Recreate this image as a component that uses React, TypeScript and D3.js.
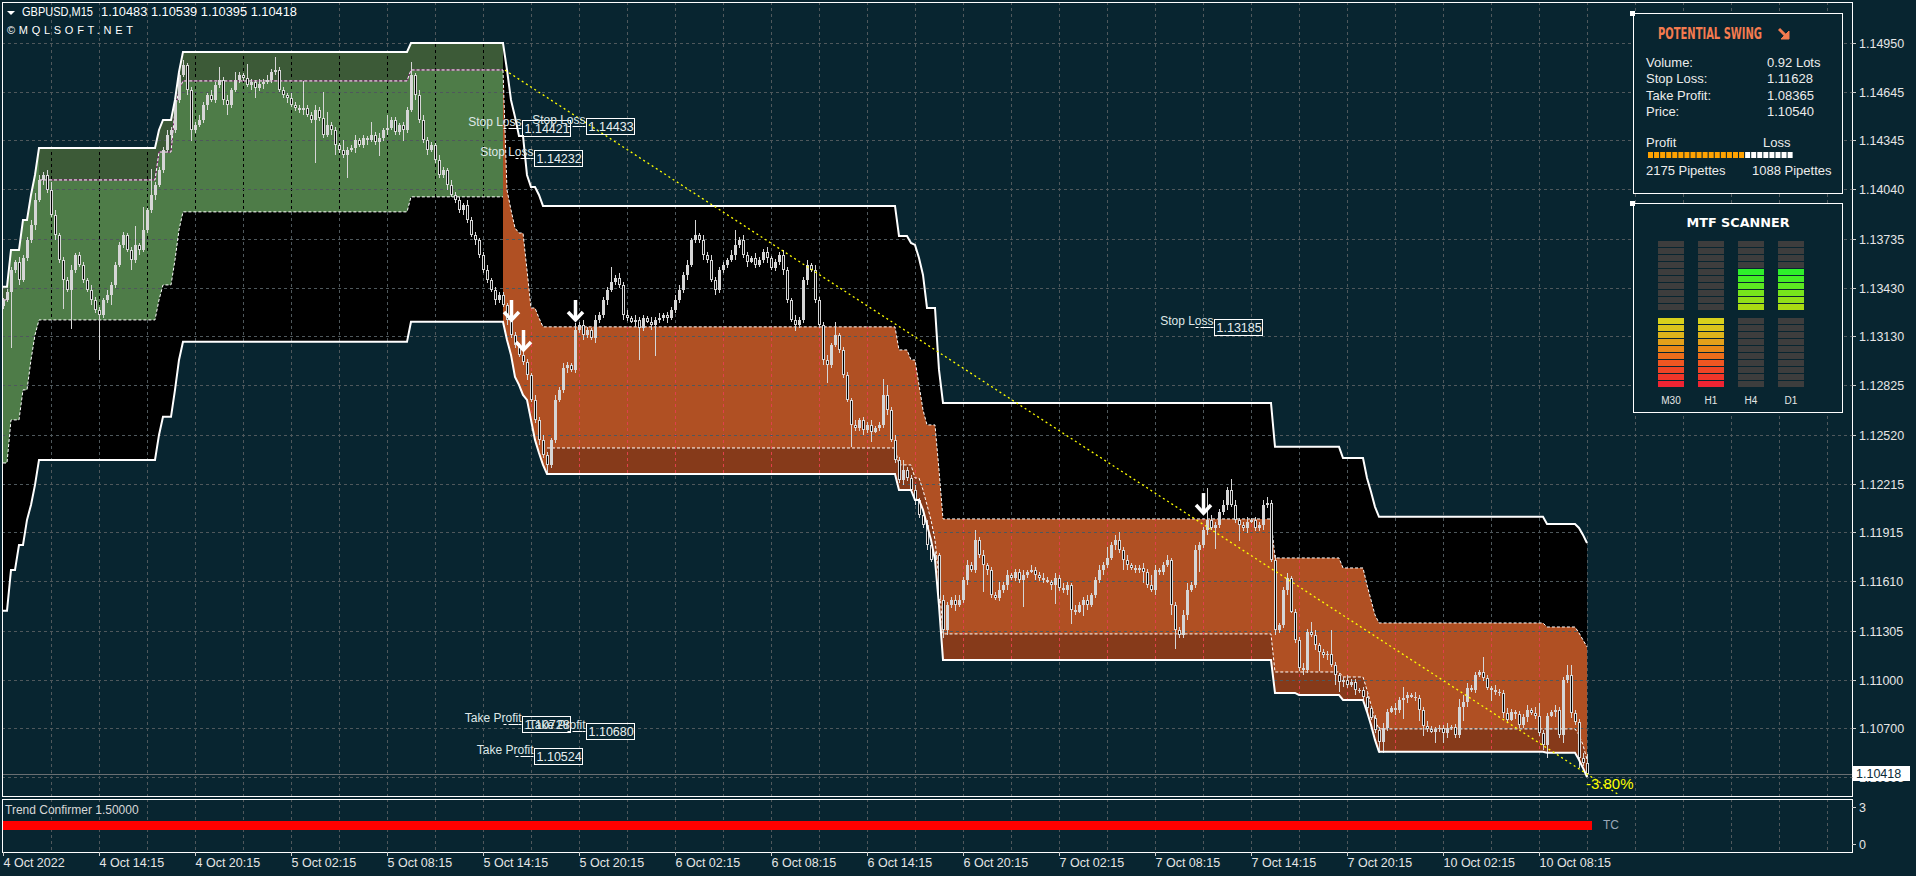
import React, { useEffect } from 'react';
import * as d3 from 'd3';

// ---------------- DATA ----------------
const symbolTitle = 'GBPUSD,M15';
const lastBarOHLC = [1.10483, 1.10539, 1.10395, 1.10418];
const watermark = '©MQLSOFT.NET';

const priceTicks = ['1.14950', '1.14645', '1.14345', '1.14040', '1.13735', '1.13430', '1.13130', '1.12825', '1.12520', '1.12215', '1.11915', '1.11610', '1.11305', '1.11000', '1.10700', '1.10395'];
const timeLabels = ['4 Oct 2022', '4 Oct 14:15', '4 Oct 20:15', '5 Oct 02:15', '5 Oct 08:15', '5 Oct 14:15', '5 Oct 20:15', '6 Oct 02:15', '6 Oct 08:15', '6 Oct 14:15', '6 Oct 20:15', '7 Oct 02:15', '7 Oct 08:15', '7 Oct 14:15', '7 Oct 20:15', '10 Oct 02:15', '10 Oct 08:15'];
const barsPerLabel = 24;
const barsPerGrid = 12;

// closes in points above 1.10000 (one per M15 bar)
const closes = [
  3355, 3405, 3541, 3591, 3479, 3615, 3727, 3820, 3975, 4099,
  4130, 4037, 3882, 3758, 3603, 3479, 3417, 3541, 3634, 3572,
  3479, 3417, 3355, 3293, 3262, 3355, 3386, 3448, 3572, 3696,
  3758, 3665, 3603, 3696, 3665, 3789, 3913, 4006, 4068, 4161,
  4285, 4378, 4409, 4595, 4750, 4812, 4657, 4409, 4440, 4471,
  4564, 4626, 4595, 4688, 4719, 4595, 4564, 4657, 4719, 4750,
  4731, 4688, 4707, 4669, 4694, 4707, 4719, 4769, 4781, 4657,
  4626, 4607, 4564, 4545, 4533, 4545, 4502, 4471, 4533, 4483,
  4378, 4440, 4409, 4316, 4285, 4254, 4285, 4297, 4347, 4316,
  4359, 4347, 4378, 4335, 4359, 4409, 4421, 4471, 4397, 4440,
  4409, 4533, 4750, 4626, 4471, 4347, 4285, 4316, 4223, 4130,
  4161, 4068, 4006, 3975, 3913, 3944, 3851, 3758, 3727, 3634,
  3541, 3479, 3417, 3355, 3386, 3324, 3231, 3138, 3076, 3014,
  2971, 2890, 2735, 2611, 2487, 2394, 2332, 2487, 2735, 2797,
  2933, 2952, 2921, 3169, 3200, 3138, 3169, 3119, 3231, 3262,
  3355, 3417, 3467, 3491, 3448, 3262, 3243, 3219, 3231, 3181,
  3243, 3219, 3200, 3231, 3243, 3262, 3243, 3293, 3355, 3417,
  3510, 3572, 3727, 3758, 3727, 3634, 3603, 3479, 3417, 3541,
  3572, 3603, 3634, 3696, 3727, 3634, 3591, 3615, 3572, 3603,
  3653, 3615, 3553, 3591, 3634, 3541, 3355, 3231, 3200, 3231,
  3479, 3572, 3541, 3355, 3200, 2983, 2952, 3076, 3138, 3045,
  2890, 2735, 2580, 2561, 2611, 2549, 2580, 2537, 2561, 2580,
  2766, 2673, 2487, 2363, 2239, 2301, 2251, 2177, 2115, 2022,
  1960, 1836, 1743, 1774, 1495, 1309, 1464, 1495, 1464, 1495,
  1619, 1712, 1681, 1867, 1774, 1712, 1681, 1526, 1507, 1557,
  1588, 1650, 1631, 1669, 1619, 1650, 1669, 1681, 1650, 1631,
  1619, 1607, 1588, 1631, 1569, 1557, 1588, 1433, 1421, 1464,
  1495, 1464, 1526, 1619, 1681, 1712, 1755, 1836, 1867, 1805,
  1743, 1712, 1693, 1681, 1693, 1669, 1588, 1557, 1681, 1669,
  1712, 1743, 1464, 1309, 1278, 1402, 1557, 1588, 1805, 1836,
  1929, 1991, 1941, 1960, 2041, 2084, 2177, 2084, 1991, 1960,
  1941, 1979, 1991, 1941, 1960, 2084, 2096, 1743, 1309, 1340,
  1557, 1631, 1421, 1247, 1073, 1061, 1297, 1278, 1216, 1173,
  1154, 1160, 1092, 1030, 987, 999, 968, 987, 937, 937,
  894, 825, 763, 689, 615, 702, 801, 825, 813, 875,
  887, 906, 894, 887, 813, 714, 695, 677, 695, 701,
  670, 701, 707, 658, 832, 863, 949, 937, 1030, 1049,
  1011, 949, 937, 925, 918, 795, 751, 801, 788, 720,
  770, 813, 794, 776, 670, 596, 776, 801, 813, 658,
  999, 1030, 795, 739, 515, 483, 418,
];
const firstOpen = 3320;
// wick sizes in tens of points, base-36 digit per bar
const wickUpRows = ['1221322343', '2353122312', '2132213222', '212c1e1g22', '2322131223', '2132823152', '1921323282', '21322h2232', 'g822162231', '2182318221', '2281332213', '2132213221', '2312221321', '2213232132', '3214232132', '2292323132', '2132312233', '2319132322', '2139232132', '2312232132', '2313223181', '2213122312', 'a623262231', '2322132233', '2326231225', '2312231322', '3213232132', '2312327235', '2312232631', '2312234232', '2k32232731', '2312234231', '2312232631', '22f2123221', '2312232132', '7213223212', '2312543221', '9213223212', '2314822132', '2662236'];
const wickDnRows = ['21z2312231', '32132i1o21', '2132s22621', '2162312231', '2132213721', '2312236212', '2136231221', '23122312r2', '213622e131', '2312923122', '7213223122', '2312232132', '2213213221', '2312325221', '2312232132', '231223213k', '213j223122', '2312232132', '2213223121', '2312232142', '231223b212', '21e2232612', '2312232132', '2312253241', '23122h3212', '23122h2132', '213c223921', '7312232132', '6312272132', '216c22312e', '231d22312a', '2312232132', '231223213c', '2316632132', '2312772132', 'c312762172', '6312293121', '2172232132', '2312238132', '5232622'];

type BP = [number, number | null];
// step-hold band levels: [bar, points]
const upperBand: BP[] = [[0, 3436], [2, 3665], [5, 3851], [7, 4006], [8, 4130], [9, 4297], [39, 4409], [40, 4471], [43, 4595], [44, 4769], [45, 4893], [102, 4948], [126, 4781], [127, 4595], [128, 4490], [129, 4372], [131, 4130], [132, 4055], [134, 4006], [135, 3938], [224, 3752], [227, 3708], [228, 3696], [229, 3615], [230, 3510], [231, 3305], [234, 2921], [235, 2716], [318, 2444], [335, 2375], [341, 2251], [342, 2165], [343, 2072], [344, 2010], [386, 1966], [394, 1941], [395, 1898], [396, 1848]];
const lowerBand: BP[] = [[0, 1427], [2, 1681], [4, 1836], [6, 1991], [7, 2084], [8, 2208], [9, 2363], [39, 2518], [40, 2630], [43, 2797], [44, 2983], [45, 3095], [102, 3219], [126, 3107], [127, 3014], [128, 2878], [129, 2828], [130, 2766], [131, 2735], [132, 2611], [133, 2487], [134, 2406], [135, 2332], [136, 2276], [224, 2177], [228, 2115], [230, 2053], [231, 1960], [232, 1867], [233, 1743], [234, 1460], [235, 1123], [318, 918], [324, 906], [335, 875], [341, 801], [342, 720], [343, 627], [344, 553], [386, 547], [394, 503], [395, 453], [396, 397]];
const bullZoneEnd = 125;
const bullZoneBottom: BP[] = [[0, 2344], [2, 2611], [5, 2797], [7, 2983], [8, 3138], [9, 3231], [39, 3355], [40, 3448], [43, 3603], [44, 3789], [45, 3901], [102, 3994]];
const bullZoneMid: BP[] = [[0, 3355], [2, null], [9, 4099], [39, 4272], [43, 4533], [44, 4657], [45, 4713], [102, 4781]];
const bearZoneStart = 125;
const bearZoneTop: BP[] = [[125, 4781], [126, 4037], [127, 3913], [128, 3801], [129, 3770], [131, 3541], [132, 3305], [134, 3243], [135, 3188], [224, 3045], [227, 2983], [229, 2828], [230, 2673], [231, 2580], [234, 2301], [235, 1997], [318, 1755], [335, 1693], [341, 1588], [342, 1495], [343, 1402], [344, 1352], [386, 1327], [394, 1290], [395, 1247], [396, 1204]];
const bearMidStart = 136;
const bearZoneMid: BP[] = [[136, 2437], [224, 2332], [228, 2251], [230, 2177], [231, 2084], [232, 1991], [233, 1867], [234, 1619], [235, 1284], [318, 1048], [335, 1017], [341, 937], [342, 844], [343, 751], [344, 695], [394, 658], [395, 596], [396, 503]];

const trendLine = [{ bar: 125.5, price: 1.1478 }, { bar: 404, price: 1.10286 }];
const sellArrows = [{ bar: 127, price: 1.13218 }, { bar: 130, price: 1.13032 }, { bar: 143, price: 1.13218 }, { bar: 300, price: 1.12021 }];
const stopLossLabels = [{ bar: 130, price: 1.14421 }, { bar: 146, price: 1.14433 }, { bar: 133, price: 1.14232 }, { bar: 303, price: 1.13185 }];
const takeProfitLabels = [{ bar: 130, price: 1.10728 }, { bar: 146, price: 1.1068 }, { bar: 133, price: 1.10524 }];
const changeText = '-3.80%';

const tcName = 'Trend Confirmer 1.50000';
const tcLevel = 1.5;
const tcTicks = [3, 0];

const swingRows = [['Volume:', '0.92 Lots'], ['Stop Loss:', '1.11628'], ['Take Profit:', '1.08365'], ['Price:', '1.10540']];
const profitPips = 2175;
const lossPips = 1088;
const pipSquares = 24;

const mtfFrames = ['M30', 'H1', 'H4', 'D1'];
const mtfUpperLit = [0, 0, 6, 6];
const mtfLowerLit = [10, 10, 0, 0];
const upperPalette = ['#2ef02b', '#44ee25', '#5ce921', '#77e51c', '#92e018', '#aadb13'];
const lowerPalette = ['#d8d11c', '#dac41c', '#ddb41b', '#e3a01a', '#e98818', '#ed6e1b', '#ef5621', '#ef4526', '#f0362a', '#f02433'];

// ---------------- STYLE / LAYOUT ----------------
const W = 1916, H = 876;
const BG = '#082530';
const GRID = '#4f585c';
const CANDLE = '#d6d6d6';
const LEFT = 2, RIGHT = 1852, TOP = 2, MAIN_BOTTOM = 796, IND_TOP = 799, IND_BOTTOM = 852;
const FONT = '"Liberation Sans", Arial, sans-serif';

const toPrice = (pts: number) => 1.1 + pts / 100000;

function expand(bps: BP[], from: number, to: number) {
  const out: { i: number; v: number | null }[] = [];
  let k = 0;
  for (let i = from; i <= to; i++) {
    while (k + 1 < bps.length && bps[k + 1][0] <= i) k++;
    out.push({ i, v: bps[k][0] <= i ? bps[k][1] : null });
  }
  return out;
}

export default function App() {
  useEffect(() => {
    document.body.style.margin = '0';
    document.body.style.background = BG;
  }, []);

  const lastBar = closes.length - 1;
  const x = d3.scaleLinear().domain([0, 396]).range([3, 1587]);
  const y = d3.scaleLinear().domain([1.10395, 1.1495]).range([777.3, 42.7]);
  const yInd = d3.scaleLinear().domain([0, 3]).range([844, 807]);

  const upStr = wickUpRows.join('');
  const dnStr = wickDnRows.join('');
  const candles = closes.map((c, i) => {
    const o = i === 0 ? firstOpen : closes[i - 1];
    const wu = parseInt(upStr[i] || '1', 36) * 10;
    const wd = parseInt(dnStr[i] || '1', 36) * 10;
    if (i === lastBar) {
      return { i, o: lastBarOHLC[0], h: lastBarOHLC[1], l: lastBarOHLC[2], c: lastBarOHLC[3] };
    }
    return { i, o: toPrice(o), c: toPrice(c), h: toPrice(Math.max(o, c) + wu), l: toPrice(Math.min(o, c) - wd) };
  });

  const up = expand(upperBand, 0, lastBar);
  const lo = expand(lowerBand, 0, lastBar);
  const gB = expand(bullZoneBottom, 0, bullZoneEnd);
  const gM = expand(bullZoneMid, 0, bullZoneEnd);
  const oT = expand(bearZoneTop, bearZoneStart, lastBar);
  const oM = expand(bearZoneMid, bearMidStart, lastBar);

  type P = { i: number; a: number | null; b: number | null };
  const area = d3.area<P>()
    .defined(d => d.a != null && d.b != null)
    .x(d => x(d.i)).y0(d => y(toPrice(d.a as number))).y1(d => y(toPrice(d.b as number)));
  const line = d3.line<{ i: number; v: number | null }>()
    .defined(d => d.v != null)
    .x(d => x(d.i)).y(d => y(toPrice(d.v as number)));

  const channelPath = area(up.map((d, k) => ({ i: d.i, a: lo[k].v, b: d.v }))) || '';
  const greenPath = area(gB.map(d => ({ i: d.i, a: d.v, b: up[d.i].v }))) || '';
  const greenDarkPath = area(gM.map(d => ({ i: d.i, a: d.v, b: up[d.i].v }))) || '';
  const orangePath = area(oT.map(d => ({ i: d.i, a: lo[d.i].v, b: d.v }))) || '';
  const orangeDarkPath = area(oM.map(d => ({ i: d.i, a: lo[d.i].v, b: d.v }))) || '';

  const gridX: number[] = [];
  for (let b = barsPerGrid; x(b) < RIGHT - 2; b += barsPerGrid) gridX.push(Math.round(x(b)) + 0.5);
  const vPath = gridX.map(gx => `M${gx},${TOP}V${MAIN_BOTTOM}M${gx},${IND_TOP}V${IND_BOTTOM}`).join('');

  const lastClose = lastBarOHLC[3];
  const yLast = Math.round(y(lastClose)) + 0.5;

  const totalPips = profitPips + lossPips;
  const profitSq = Math.round((pipSquares * profitPips) / totalPips);

  const arrow = (bx: number, tipY: number, key: string) => (
    <g key={key} fill="none" stroke="#ffffff" strokeWidth={3.5} strokeLinecap="butt">
      <line x1={bx} x2={bx} y1={tipY - 22} y2={tipY - 3} />
      <polyline points={`${bx - 7.5},${tipY - 10} ${bx},${tipY - 2} ${bx + 7.5},${tipY - 10}`} strokeLinejoin="miter" />
    </g>
  );

  const priceLabel = (title: string, bar: number, price: number, key: string) => {
    const bx = Math.round(x(bar)) - 1 + 0.5;
    const cy = Math.round(y(price));
    return (
      <g key={key}>
        <text x={bx - 1} y={cy - 2} fontSize={12} fill="#dfe8e8" textAnchor="end" fontFamily={FONT}>{title}</text>
        <line x1={bx - 19} x2={bx} y1={cy + 0.5} y2={cy + 0.5} stroke="#ffffff" strokeDasharray="3,2,10,0" />
        <rect x={bx} y={cy - 8 + 0.5} width={48} height={16} fill="none" stroke="#ffffff" />
        <text x={bx + 2} y={cy + 5} fontSize={12.5} fill="#e8f0f0" fontFamily={FONT}>{price.toFixed(5)}</text>
      </g>
    );
  };

  return (
    <svg width={W} height={H} style={{ position: 'absolute', left: 0, top: 0, display: 'block' }} fontFamily={FONT}>
      <defs>
        <clipPath id="clipMain"><rect x={LEFT} y={TOP} width={RIGHT - LEFT} height={MAIN_BOTTOM - TOP} /></clipPath>
        <clipPath id="clipGreen"><path d={greenPath} /></clipPath>
        <clipPath id="clipOrange"><path d={orangePath} /></clipPath>
      </defs>
      <rect x={0} y={0} width={W} height={H} fill={BG} />

      <g clipPath="url(#clipMain)">
        <path d={channelPath} fill="#000000" />
        <path d={greenPath} fill="#4e7c48" />
        <path d={greenDarkPath} fill="#3c5a37" />
        <path d={orangePath} fill="#b05023" />
        <path d={orangeDarkPath} fill="#863a1a" />
      </g>

      {/* grid */}
      <g shapeRendering="crispEdges">
        <path d={vPath} stroke={GRID} strokeDasharray="3,3" fill="none" />
        <g clipPath="url(#clipGreen)"><path d={vPath} stroke="#000000" strokeDasharray="3,3" fill="none" /></g>
        <g clipPath="url(#clipOrange)"><path d={vPath} stroke="#e0404a" strokeDasharray="3,3" fill="none" /></g>
        {priceTicks.map(t => {
          const gy = Math.round(y(+t)) + 0.5;
          return <line key={t} x1={LEFT} x2={RIGHT} y1={gy} y2={gy} stroke={GRID} strokeDasharray="3,3" />;
        })}
      </g>

      <g clipPath="url(#clipMain)">
        {/* zone dashed lines */}
        <path d={line(gM) || ''} fill="none" stroke="#8a1a7a" strokeWidth={1} />
        <path d={line(gM) || ''} fill="none" stroke="#ffffff" strokeWidth={1} strokeDasharray="3,2" />
        <path d={line(gB) || ''} fill="none" stroke="#ffffff" strokeWidth={1} strokeDasharray="3,2" />
        <path d={line(oT) || ''} fill="none" stroke="#ffffff" strokeWidth={1} strokeDasharray="3,2" />
        <path d={line(oM) || ''} fill="none" stroke="#ffffff" strokeWidth={1} strokeDasharray="3,2" />

        {/* price line */}
        <line x1={LEFT} x2={RIGHT} y1={yLast} y2={yLast} stroke="#6a6f72" shapeRendering="crispEdges" />

        {/* candles */}
        <g shapeRendering="crispEdges">
          {candles.map(d => {
            const cx = Math.round(x(d.i));
            const yo = y(d.o), yc = y(d.c);
            const top = Math.round(Math.min(yo, yc));
            const bot = Math.max(top + 1, Math.round(Math.max(yo, yc)));
            const bull = d.c >= d.o;
            return (
              <g key={d.i}>
                <line x1={cx + 0.5} x2={cx + 0.5} y1={Math.round(y(d.h))} y2={Math.round(y(d.l))} stroke={CANDLE} />
                <rect x={cx - 1} y={top} width={3} height={bot - top} fill={CANDLE} />
                {!bull && bot - top > 2 && <line x1={cx + 0.5} x2={cx + 0.5} y1={top + 1} y2={bot - 1} stroke="#000000" />}
              </g>
            );
          })}
        </g>

        {/* outer channel lines */}
        <path d={line(up) || ''} fill="none" stroke="#ffffff" strokeWidth={2} />
        <path d={line(lo) || ''} fill="none" stroke="#ffffff" strokeWidth={2} />

        {/* trend line */}
        <line x1={x(trendLine[0].bar)} y1={y(trendLine[0].price)} x2={x(trendLine[1].bar)} y2={y(trendLine[1].price)} stroke="#ffff00" strokeWidth={1.3} strokeDasharray="2,3" />

        {sellArrows.map((a, k) => arrow(Math.round(x(a.bar)) + 0.5, y(a.price), 'a' + k))}
        {stopLossLabels.map((l, k) => priceLabel('Stop Loss', l.bar, l.price, 's' + k))}
        {takeProfitLabels.map((l, k) => priceLabel('Take Profit', l.bar, l.price, 't' + k))}

        <text x={x(lastBar) - 1} y={y(lastClose) + 15} fontSize={15} fill="#ffff00" fontFamily={FONT}>{changeText}</text>
      </g>

      {/* header */}
      <path d="M7,11 L15,11 L11,15 Z" fill="#ffffff" />
      <text x={22} y={16} fontSize={12} fill="#ffffff" textLength={71} lengthAdjust="spacingAndGlyphs">{symbolTitle}</text>
      <text x={101} y={16} fontSize={12} fill="#ffffff" textLength={196} lengthAdjust="spacingAndGlyphs">{lastBarOHLC.map(v => v.toFixed(5)).join(' ')}</text>
      <text x={7} y={34} fontSize={11} fill="#ffffff" textLength={126} lengthAdjust="spacing">{watermark}</text>

      {/* indicator */}
      <line x1={LEFT} x2={x(lastBar) + 5} y1={yInd(tcLevel)} y2={yInd(tcLevel)} stroke="#ff0000" strokeWidth={9} />
      <text x={5} y={814} fontSize={12} fill="#d8d8d8">{tcName}</text>
      <text x={x(lastBar) + 16} y={829} fontSize={12} fill="#9aa8b8">TC</text>

      {/* borders */}
      <g fill="none" stroke="#ffffff" shapeRendering="crispEdges">
        <rect x={LEFT + 0.5} y={TOP + 0.5} width={RIGHT - LEFT} height={MAIN_BOTTOM - TOP} />
        <rect x={LEFT + 0.5} y={IND_TOP + 0.5} width={RIGHT - LEFT} height={IND_BOTTOM - IND_TOP} />
      </g>

      {/* right axis */}
      {priceTicks.map(t => {
        const ty = Math.round(y(+t)) + 0.5;
        return (
          <g key={t}>
            <line x1={RIGHT} x2={RIGHT + 4} y1={ty} y2={ty} stroke="#cccccc" />
            <text x={1859} y={ty + 4.5} fontSize={12.5} fill="#e6e6e6">{t}</text>
          </g>
        );
      })}
      {tcTicks.map(t => (
        <g key={'tc' + t}>
          <line x1={RIGHT} x2={RIGHT + 4} y1={yInd(t) + 0.5} y2={yInd(t) + 0.5} stroke="#cccccc" />
          <text x={1859} y={yInd(t) + 4.5} fontSize={12.5} fill="#e6e6e6">{t}</text>
        </g>
      ))}
      <rect x={1853} y={766} width={57} height={15} fill="#ffffff" />
      <text x={1856} y={778} fontSize={12.5} fill="#0b2a36">{lastClose.toFixed(5)}</text>

      {/* bottom axis */}
      {timeLabels.map((t, k) => {
        const tx = Math.round(x(k * barsPerLabel)) + 0.5;
        return (
          <g key={t}>
            <line x1={tx} x2={tx} y1={IND_BOTTOM} y2={IND_BOTTOM + 4} stroke="#cccccc" />
            <text x={tx} y={867} fontSize={12.5} fill="#e6e6e6">{t}</text>
          </g>
        );
      })}

      {/* Potential swing panel */}
      <g>
        <rect x={1633.5} y={13.5} width={209} height={180} fill={BG} stroke="#ffffff" />
        <rect x={1630} y={11} width={5} height={5} fill="#ffffff" />
        <text x={1658} y={39} fontSize={15} fontWeight="bold" fill="#f47b4f" fontFamily='"DejaVu Sans Condensed", "DejaVu Sans", sans-serif' textLength={104} lengthAdjust="spacingAndGlyphs">POTENTIAL SWING</text>
        <g stroke="#f47b4f" strokeWidth={3} fill="#f47b4f">
          <line x1={1779} y1={29} x2={1786} y2={36} />
          <path d="M1789,39 L1789,31 L1781,39 Z" strokeWidth={1} />
        </g>
        {swingRows.map((r, k) => (
          <g key={r[0]}>
            <text x={1646} y={66.5 + k * 16.6} fontSize={13} fill="#ececec">{r[0]}</text>
            <text x={1767} y={66.5 + k * 16.6} fontSize={13} fill="#ececec">{r[1]}</text>
          </g>
        ))}
        <text x={1646} y={147} fontSize={13} fill="#ececec">Profit</text>
        <text x={1763} y={147} fontSize={13} fill="#ececec">Loss</text>
        {d3.range(pipSquares).map(k => (
          <rect key={k} x={1648 + k * 6.07} y={152} width={5} height={6} fill={k < profitSq ? '#ffa200' : '#ffffff'} />
        ))}
        <text x={1646} y={175} fontSize={13} fill="#ececec">{profitPips} Pipettes</text>
        <text x={1752} y={175} fontSize={13} fill="#ececec">{lossPips} Pipettes</text>
      </g>

      {/* MTF scanner */}
      <g>
        <rect x={1633.5} y={203.5} width={209} height={209} fill={BG} stroke="#ffffff" />
        <rect x={1630} y={201} width={5} height={5} fill="#ffffff" />
        <text x={1738} y={227} fontSize={13} fontWeight="bold" fill="#ffffff" textAnchor="middle" fontFamily='"DejaVu Sans", sans-serif' textLength={103} lengthAdjust="spacingAndGlyphs">MTF SCANNER</text>
        {mtfFrames.map((f, c) => {
          const cx = 1658 + c * 40;
          return (
            <g key={f}>
              {d3.range(10).map(k => {
                const litFrom = 10 - mtfUpperLit[c];
                const col = k >= litFrom ? upperPalette[k - 4] || upperPalette[upperPalette.length - 1] : '#3d3d3d';
                return <rect key={'u' + k} x={cx} y={241 + k * 7} width={26} height={6} fill={col} />;
              })}
              {d3.range(10).map(k => {
                const litFrom = 10 - mtfLowerLit[c];
                const col = k >= litFrom ? lowerPalette[k] : '#3d3d3d';
                return <rect key={'l' + k} x={cx} y={318 + k * 7} width={26} height={6} fill={col} />;
              })}
              <text x={cx + 13} y={404} fontSize={10} fill="#e6e6e6" textAnchor="middle">{f}</text>
            </g>
          );
        })}
      </g>
    </svg>
  );
}
